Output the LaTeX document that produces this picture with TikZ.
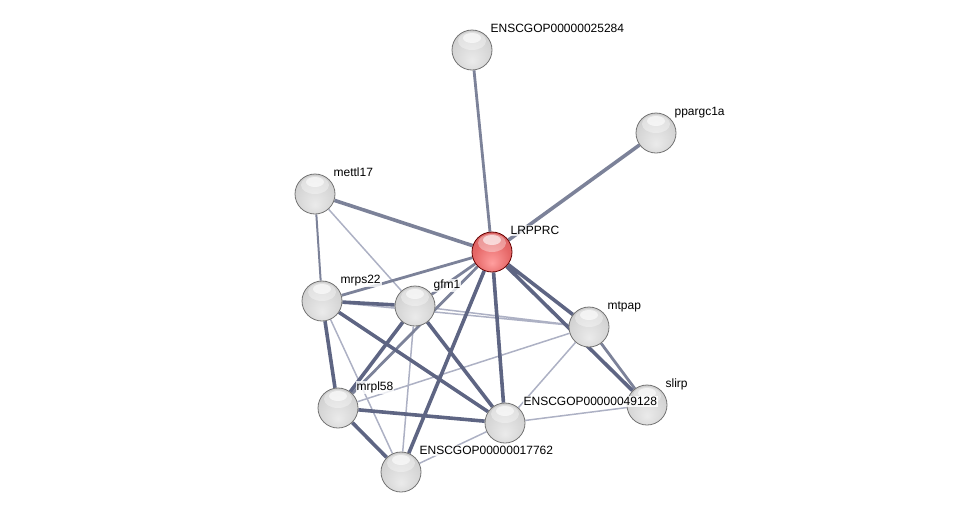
\documentclass[tikz,border=0pt]{standalone}
\usepackage{fontspec}
\setmainfont{Liberation Sans}
\usetikzlibrary{positioning,backgrounds}

\definecolor{edgedark}{HTML}{5E6583}
\definecolor{edgemid}{HTML}{7C8299}
\definecolor{edgelight}{HTML}{ADB1C4}

\pgfdeclareradialshading{greysphere}{\pgfpoint{0bp}{-14bp}}{%
    color(0bp)=(white!92!black); color(22bp)=(white!84!black);
    color(38bp)=(white!78!black); color(46bp)=(white!64!black);
    color(50bp)=(white!50!black)}
\pgfdeclareradialshading{redsphere}{\pgfpoint{0bp}{-14bp}}{%
    color(0bp)=(red!38!white); color(22bp)=(red!55!white!90!black);
    color(38bp)=(red!55!white!82!black); color(46bp)=(red!55!white!65!black);
    color(50bp)=(red!45!black)}

\begin{document}
\begin{tikzpicture}[
        x=1pt, y=-1pt,
        protein/.style={
                circle,
                draw=black!55,
                line width=0.8pt,
                shading=greysphere,
                minimum size=40pt,
                inner sep=0pt,
                path picture={
                    \fill[white, opacity=0.35]
                    ([yshift=-11pt]path picture bounding box.north) ellipse (14pt and 9pt);
                    \fill[white, opacity=0.6]
                    ([yshift=-8pt]path picture bounding box.north) ellipse (9pt and 5pt);}
            },
        query/.style={
                protein,
                shading=redsphere,
                draw=red!40!black
            },
        lbl/.style={anchor=base west, inner sep=1pt, xshift=3pt, yshift=3pt,
                fill=white, fill opacity=0.8, text opacity=1,
                font=\fontsize{12}{14}\selectfont},
        strong/.style={draw=edgedark, line width=3.6pt},
        medium/.style={draw=edgemid, line width=2.8pt},
        weak/.style={draw=edgelight, line width=1.5pt}
    ]
    \useasboundingbox (0,0) rectangle (975,517);

    % proteins
    \node[query,label={[lbl]45:LRPPRC}] (lrpprc) at (492,252) {};
    \node[protein,label={[lbl]45:ENSCGOP00000025284}] (e25284) at (472,50) {};
    \node[protein,label={[lbl]45:ppargc1a}] (ppargc) at (656,133) {};
    \node[protein,label={[lbl]45:mettl17}] (mettl) at (315,194) {};
    \node[protein,label={[lbl]45:mrps22}] (mrps) at (322,301) {};
    \node[protein,label={[lbl]45:gfm1}] (gfm) at (415,306) {};
    \node[protein,label={[lbl]45:mtpap}] (mtpap) at (589,327) {};
    \node[protein,label={[lbl]45:slirp}] (slirp) at (647,405) {};
    \node[protein,label={[lbl]45:mrpl58}] (mrpl) at (338,408) {};
    \node[protein,label={[lbl]45:ENSCGOP00000049128}] (e49128) at (505,423) {};
    \node[protein,label={[lbl]45:ENSCGOP00000017762}] (e17762) at (401,472) {};

    % interactions
    \begin{pgfonlayer}{background}
        \path[weak] (mettl) -- (gfm) (mrps) -- (mtpap) (gfm) -- (mtpap)
            (mrps) -- (e17762) (gfm) -- (e17762) (mrpl) -- (mtpap)
            (mtpap) -- (e49128) (slirp) -- (e49128) (e17762) -- (e49128);
        \path[medium] (lrpprc) -- (e25284) (lrpprc) -- (mrps) (lrpprc) -- (gfm)
            (lrpprc) -- (mrpl) (mtpap) -- (slirp);
        \path[medium, line width=2pt] (mettl) -- (mrps);
        \path[strong, draw=edgemid] (lrpprc) -- (ppargc) (lrpprc) -- (mettl);
        \path[strong] (lrpprc) -- (mtpap) (lrpprc) -- (slirp) (lrpprc) -- (e49128)
            (lrpprc) -- (e17762) (mrps) -- (gfm) (mrps) -- (mrpl) (mrps) -- (e49128)
            (gfm) -- (mrpl) (gfm) -- (e49128) (mrpl) -- (e49128) (mrpl) -- (e17762);
    \end{pgfonlayer}
\end{tikzpicture}
\end{document}
